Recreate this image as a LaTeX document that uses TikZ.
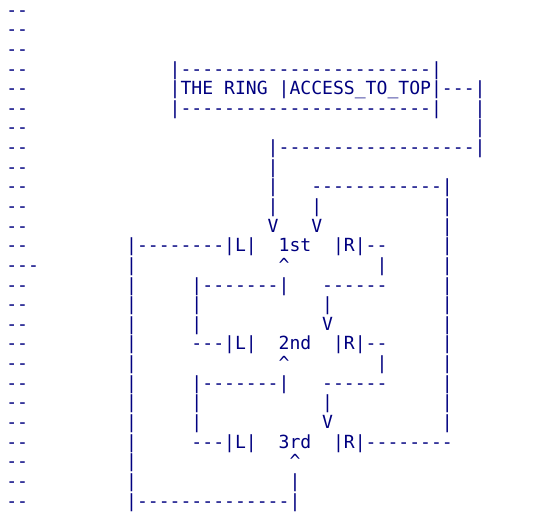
\documentclass[tikz,border=0pt]{standalone}
\usepackage{fontspec}
\setmonofont{DejaVu Sans Mono}
\definecolor{navyc}{RGB}{0,0,128}
\ExplSyntaxOn
\NewDocumentCommand\ascsp{m}{\prg_replicate:nn{#1}{\nobreakspace}}
\NewDocumentCommand\ascda{m}{\prg_replicate:nn{#1}{-}}
\ExplSyntaxOff
\newcommand\asciifnt{\ttfamily\fontsize{18.09pt}{19.64pt}\selectfont}
\newcommand\asciiline[2]{\node[asciirow] (r#1) at (6.35,{16.1+(#1-1)*19.64}) {#2};}
\newcommand\up{\textasciicircum}
\begin{document}
\begin{tikzpicture}[x=1pt,y=-1pt,
  asciirow/.style={anchor=base west,inner sep=0pt,outer sep=0pt,text=navyc,font=\asciifnt}]
\fill[white] (0,0) rectangle (546,518);
\useasboundingbox (0,0) rectangle (546,518);
\asciiline{1}{--}
\asciiline{2}{--}
\asciiline{3}{--}
\asciiline{4}{--\ascsp{13}|\ascda{23}|}
\asciiline{5}{--\ascsp{13}|THE\ascsp{1}RING\ascsp{1}|ACCESS\_TO\_TOP|---|}
\asciiline{6}{--\ascsp{13}|\ascda{23}|\ascsp{3}|}
\asciiline{7}{--\ascsp{41}|}
\asciiline{8}{--\ascsp{22}|\ascda{18}|}
\asciiline{9}{--\ascsp{22}|}
\asciiline{10}{--\ascsp{22}|\ascsp{3}\ascda{12}|}
\asciiline{11}{--\ascsp{22}|\ascsp{3}|\ascsp{11}|}
\asciiline{12}{--\ascsp{22}V\ascsp{3}V\ascsp{11}|}
\asciiline{13}{--\ascsp{9}|\ascda{8}|L|\ascsp{2}1st\ascsp{2}|R|--\ascsp{5}|}
\asciiline{14}{---\ascsp{8}|\ascsp{13}\up\ascsp{8}|\ascsp{5}|}
\asciiline{15}{--\ascsp{9}|\ascsp{5}|\ascda{7}|\ascsp{3}\ascda{6}\ascsp{5}|}
\asciiline{16}{--\ascsp{9}|\ascsp{5}|\ascsp{11}|\ascsp{10}|}
\asciiline{17}{--\ascsp{9}|\ascsp{5}|\ascsp{11}V\ascsp{10}|}
\asciiline{18}{--\ascsp{9}|\ascsp{5}---|L|\ascsp{2}2nd\ascsp{2}|R|--\ascsp{5}|}
\asciiline{19}{--\ascsp{9}|\ascsp{13}\up\ascsp{8}|\ascsp{5}|}
\asciiline{20}{--\ascsp{9}|\ascsp{5}|\ascda{7}|\ascsp{3}\ascda{6}\ascsp{5}|}
\asciiline{21}{--\ascsp{9}|\ascsp{5}|\ascsp{11}|\ascsp{10}|}
\asciiline{22}{--\ascsp{9}|\ascsp{5}|\ascsp{11}V\ascsp{10}|}
\asciiline{23}{--\ascsp{9}|\ascsp{5}---|L|\ascsp{2}3rd\ascsp{2}|R|\ascda{8}}
\asciiline{24}{--\ascsp{9}|\ascsp{14}\up}
\asciiline{25}{--\ascsp{9}|\ascsp{14}|}
\asciiline{26}{--\ascsp{9}|\ascda{14}|}
\end{tikzpicture}
\end{document}
